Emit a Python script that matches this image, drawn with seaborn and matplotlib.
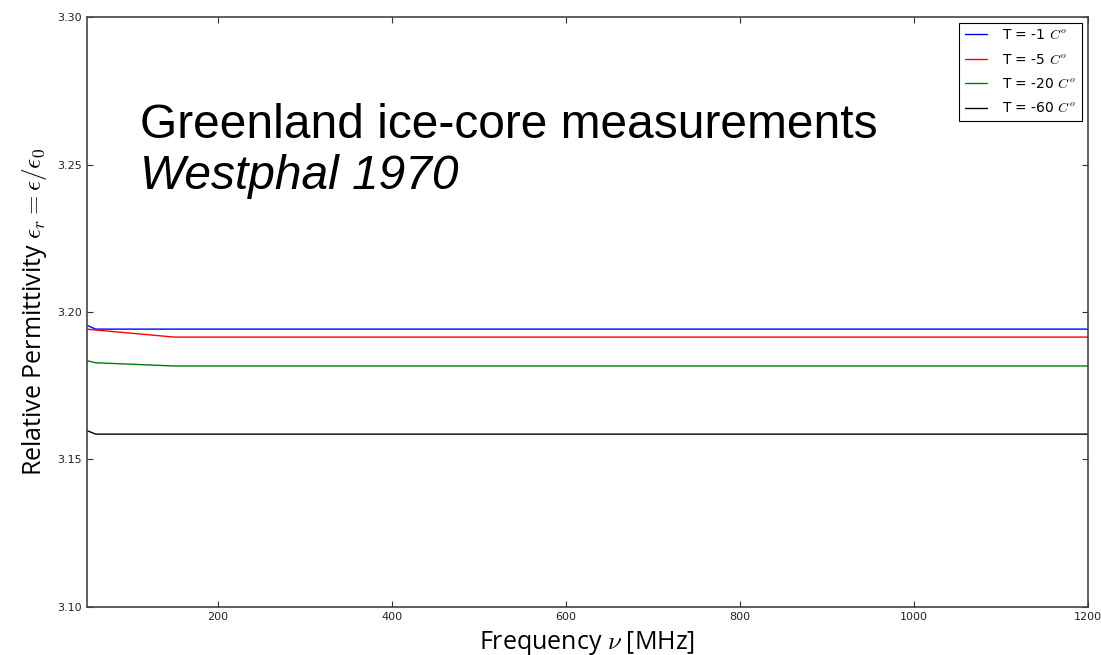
import pandas as pd
import matplotlib.pyplot as plt
import seaborn as sns

# Westphal 1970 - Greenland ice-core, relative permittivity vs frequency
freq_mhz = [50, 60, 150, 1200]
eps_m1 = [3.1955, 3.1942, 3.1942, 3.1942]
eps_m5 = [3.1942, 3.1939, 3.1915, 3.1915]
eps_m20 = [3.1835, 3.1828, 3.1817, 3.1817]
eps_m60 = [3.1598, 3.1586, 3.1586, 3.1586]

labels = [r"T = -1 $C^o$", r"T = -5 $C^o$", r"T = -20 $C^o$", r"T = -60 $C^o$"]
colors = ["#0000ff", "#ff0000", "#008000", "#000000"]

rows = []
for lab, vals in zip(labels, [eps_m1, eps_m5, eps_m20, eps_m60]):
    for f, v in zip(freq_mhz, vals):
        rows.append({"freq": f, "eps": v, "serie": lab})
df = pd.DataFrame(rows)

sns.set_style("ticks")
plt.rcParams["mathtext.fontset"] = "cm"
plt.rcParams["xtick.direction"] = "in"
plt.rcParams["ytick.direction"] = "in"
plt.rcParams["text.color"] = "black"
plt.rcParams["axes.labelcolor"] = "black"

fig = plt.figure(figsize=(11.01, 6.55), dpi=100)
ax = fig.add_axes([0.079, 0.0733, 0.909, 0.9007])

sns.lineplot(data=df, x="freq", y="eps", hue="serie", palette=colors,
             hue_order=labels, linewidth=1, ax=ax)

ax.set_xlim(50, 1200)
ax.set_ylim(3.10, 3.30)
ax.set_xticks([200, 400, 600, 800, 1000, 1200])
ax.set_yticks([3.10, 3.15, 3.20, 3.25, 3.30])
ax.set_yticklabels(["3.10", "3.15", "3.20", "3.25", "3.30"])
ax.tick_params(labelsize=8, colors="#333333", length=4, width=0.8,
               top=True, right=True, labelcolor="#222222")
for s in ax.spines.values():
    s.set_visible(True)
    s.set_color("#444444")
    s.set_linewidth(1.2)

ax.set_xlabel(r"Frequency $\nu$ [MHz]", fontsize=18, family="Open Sans", labelpad=5)
ax.set_ylabel(r"Relative Permittivity $\epsilon_r = \epsilon/\epsilon_0$",
              fontsize=18, family="Open Sans", labelpad=6)

leg = ax.legend(loc="upper right", fontsize=10, fancybox=False, framealpha=1,
                borderaxespad=0.4, handlelength=1.6, handletextpad=1.1,
                labelspacing=0.75)
leg.get_frame().set_edgecolor("black")
leg.get_frame().set_linewidth(0.8)

ax.text(0.053, 0.855, "Greenland ice-core measurements", transform=ax.transAxes,
        fontsize=34.5, family="Liberation Sans", va="top")
ax.text(0.053, 0.767, "Westphal 1970", transform=ax.transAxes,
        fontsize=34.5, family="Liberation Sans", style="italic", va="top")

fig.savefig("out.png", dpi=100)
